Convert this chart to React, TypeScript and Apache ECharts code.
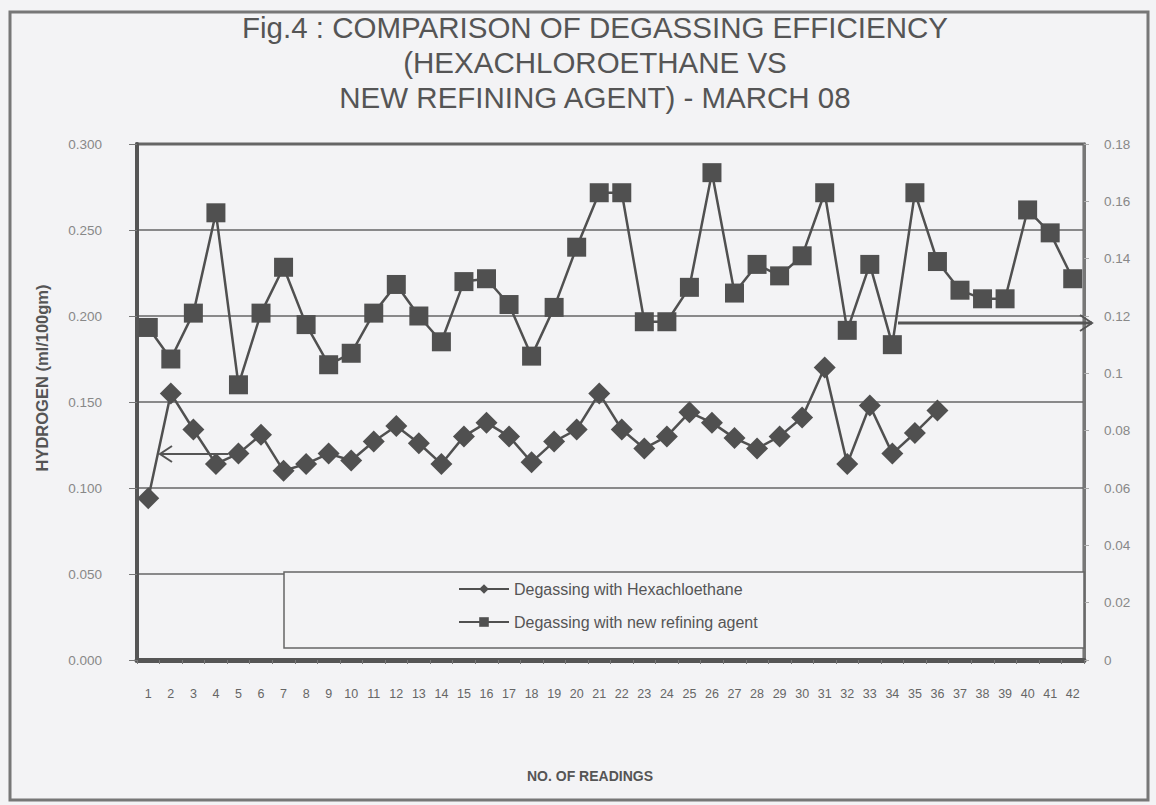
import React, { useEffect, useRef } from "react";
import * as echarts from "echarts";

const categories = ["1","2","3","4","5","6","7","8","9","10","11","12","13","14","15","16","17","18","19","20","21","22","23","24","25","26","27","28","29","30","31","32","33","34","35","36","37","38","39","40","41","42"];

const hexachloroethane = [0.094, 0.155, 0.134, 0.114, 0.120, 0.131, 0.110, 0.114, 0.120, 0.116, 0.127, 0.136, 0.126, 0.114, 0.130, 0.138, 0.130, 0.115, 0.127, 0.134, 0.155, 0.134, 0.123, 0.130, 0.144, 0.138, 0.129, 0.123, 0.130, 0.141, 0.170, 0.114, 0.148, 0.120, 0.132, 0.145];

const newRefiningAgent = [0.116, 0.105, 0.121, 0.156, 0.096, 0.121, 0.137, 0.117, 0.103, 0.107, 0.121, 0.131, 0.120, 0.111, 0.132, 0.133, 0.124, 0.106, 0.123, 0.144, 0.163, 0.163, 0.118, 0.118, 0.130, 0.170, 0.128, 0.138, 0.134, 0.141, 0.163, 0.115, 0.138, 0.110, 0.163, 0.139, 0.129, 0.126, 0.126, 0.157, 0.149, 0.133];

const seriesNames = ["Degassing with Hexachloethane", "Degassing with new refining agent"];
const titleText = "Fig.4 : COMPARISON OF DEGASSING EFFICIENCY\n(HEXACHLOROETHANE VS\nNEW REFINING AGENT) - MARCH 08";
const yAxisTitle = "HYDROGEN (ml/100gm)";
const xAxisTitle = "NO. OF READINGS";

const FONT = "'Liberation Sans', Arial, sans-serif";

export default function App() {
  const ref = useRef<HTMLDivElement>(null);
  useEffect(() => {
    if (!ref.current) return;
    const chart = echarts.init(ref.current, undefined, { renderer: "svg" });
    chart.setOption({
      animation: false,
      backgroundColor: "#f3f3f5",
      title: {
        text: titleText,
        left: 590,
        top: 5,
        textAlign: "center",
        textStyle: { fontFamily: FONT, fontSize: 29.5, fontWeight: "normal", color: "#555", lineHeight: 35 },
      },
      legend: {
        orient: "vertical",
        left: 453,
        top: 576,
        itemWidth: 50,
        itemHeight: 12,
        itemGap: 17,
        z: 10,
        textStyle: { fontFamily: FONT, fontSize: 16, color: "#555" },
        data: seriesNames,
      },
      grid: { left: 137, right: 72, top: 144, bottom: 145, show: true, borderColor: "#666", borderWidth: 3, containLabel: false },
      xAxis: {
        type: "category",
        data: categories,
        boundaryGap: true,
        axisLine: { lineStyle: { color: "#555", width: 5 } },
        axisTick: { show: true, length: 4, lineStyle: { color: "#777" } },
        axisLabel: { interval: 0, margin: 27, fontSize: 12.5, color: "#666", fontFamily: FONT },
      },
      yAxis: [
        {
          type: "value",
          position: "left",
          min: 0,
          max: 0.3,
          interval: 0.05,
          axisLine: { show: true, lineStyle: { color: "#555", width: 4 } },
          axisTick: { show: true, length: 8, lineStyle: { color: "#777" } },
          splitLine: { show: true, lineStyle: { color: "#666", width: 1.5 } },
          axisLabel: { formatter: (v: number) => v.toFixed(3), margin: 35, fontSize: 13.5, color: "#888", fontFamily: FONT },
        },
        {
          type: "value",
          position: "right",
          min: 0,
          max: 0.18,
          interval: 0.02,
          axisLine: { show: true, lineStyle: { color: "#777", width: 3 } },
          axisTick: { show: true, length: 5, lineStyle: { color: "#aaa" } },
          splitLine: { show: false },
          axisLabel: { margin: 20, fontSize: 13.5, color: "#888", fontFamily: FONT },
        },
      ],
      series: [
        {
          name: seriesNames[0],
          type: "line",
          yAxisIndex: 0,
          data: hexachloroethane,
          symbol: "diamond",
          symbolSize: [22, 22],
          itemStyle: { color: "#505050" },
          lineStyle: { color: "#505050", width: 2.5 },
          z: 3,
        },
        {
          name: seriesNames[1],
          type: "line",
          yAxisIndex: 1,
          data: newRefiningAgent,
          symbol: "rect",
          symbolSize: 19,
          itemStyle: { color: "#505050" },
          lineStyle: { color: "#505050", width: 2.5 },
          z: 3,
        },
      ],
      graphic: [
        { type: "rect", z: 0, shape: { x: 10, y: 12, width: 1138, height: 788 }, style: { fill: "none", stroke: "#777", lineWidth: 3 } },
        { type: "rect", z: 1, shape: { x: 284, y: 572, width: 800, height: 76 }, style: { fill: "#f3f3f5", stroke: "#666", lineWidth: 1.5 } },
        { type: "line", z: 5, shape: { x1: 160, y1: 454, x2: 228, y2: 454 }, style: { stroke: "#555", lineWidth: 2 } },
        { type: "polyline", z: 5, shape: { points: [[172, 446], [160, 454], [172, 462]] }, style: { stroke: "#555", lineWidth: 2, fill: "none" } },
        { type: "line", z: 5, shape: { x1: 898, y1: 323, x2: 1092, y2: 323 }, style: { stroke: "#555", lineWidth: 3 } },
        { type: "polyline", z: 5, shape: { points: [[1080, 315], [1092, 323], [1080, 331]] }, style: { stroke: "#555", lineWidth: 2, fill: "none" } },
        {
          type: "text", z: 5, x: 42, y: 378, rotation: Math.PI / 2,
          style: { text: yAxisTitle, fontFamily: FONT, fontSize: 16.5, fontWeight: "bold", fill: "#555", align: "center", verticalAlign: "middle" },
        },
        {
          type: "text", z: 5, x: 590, y: 776,
          style: { text: xAxisTitle, fontFamily: FONT, fontSize: 14, fontWeight: "bold", fill: "#555", align: "center", verticalAlign: "middle" },
        },
      ],
    });
    return () => chart.dispose();
  }, []);
  return <div ref={ref} style={{ position: "absolute", left: 0, top: 0, width: 1156, height: 805 }} />;
}
